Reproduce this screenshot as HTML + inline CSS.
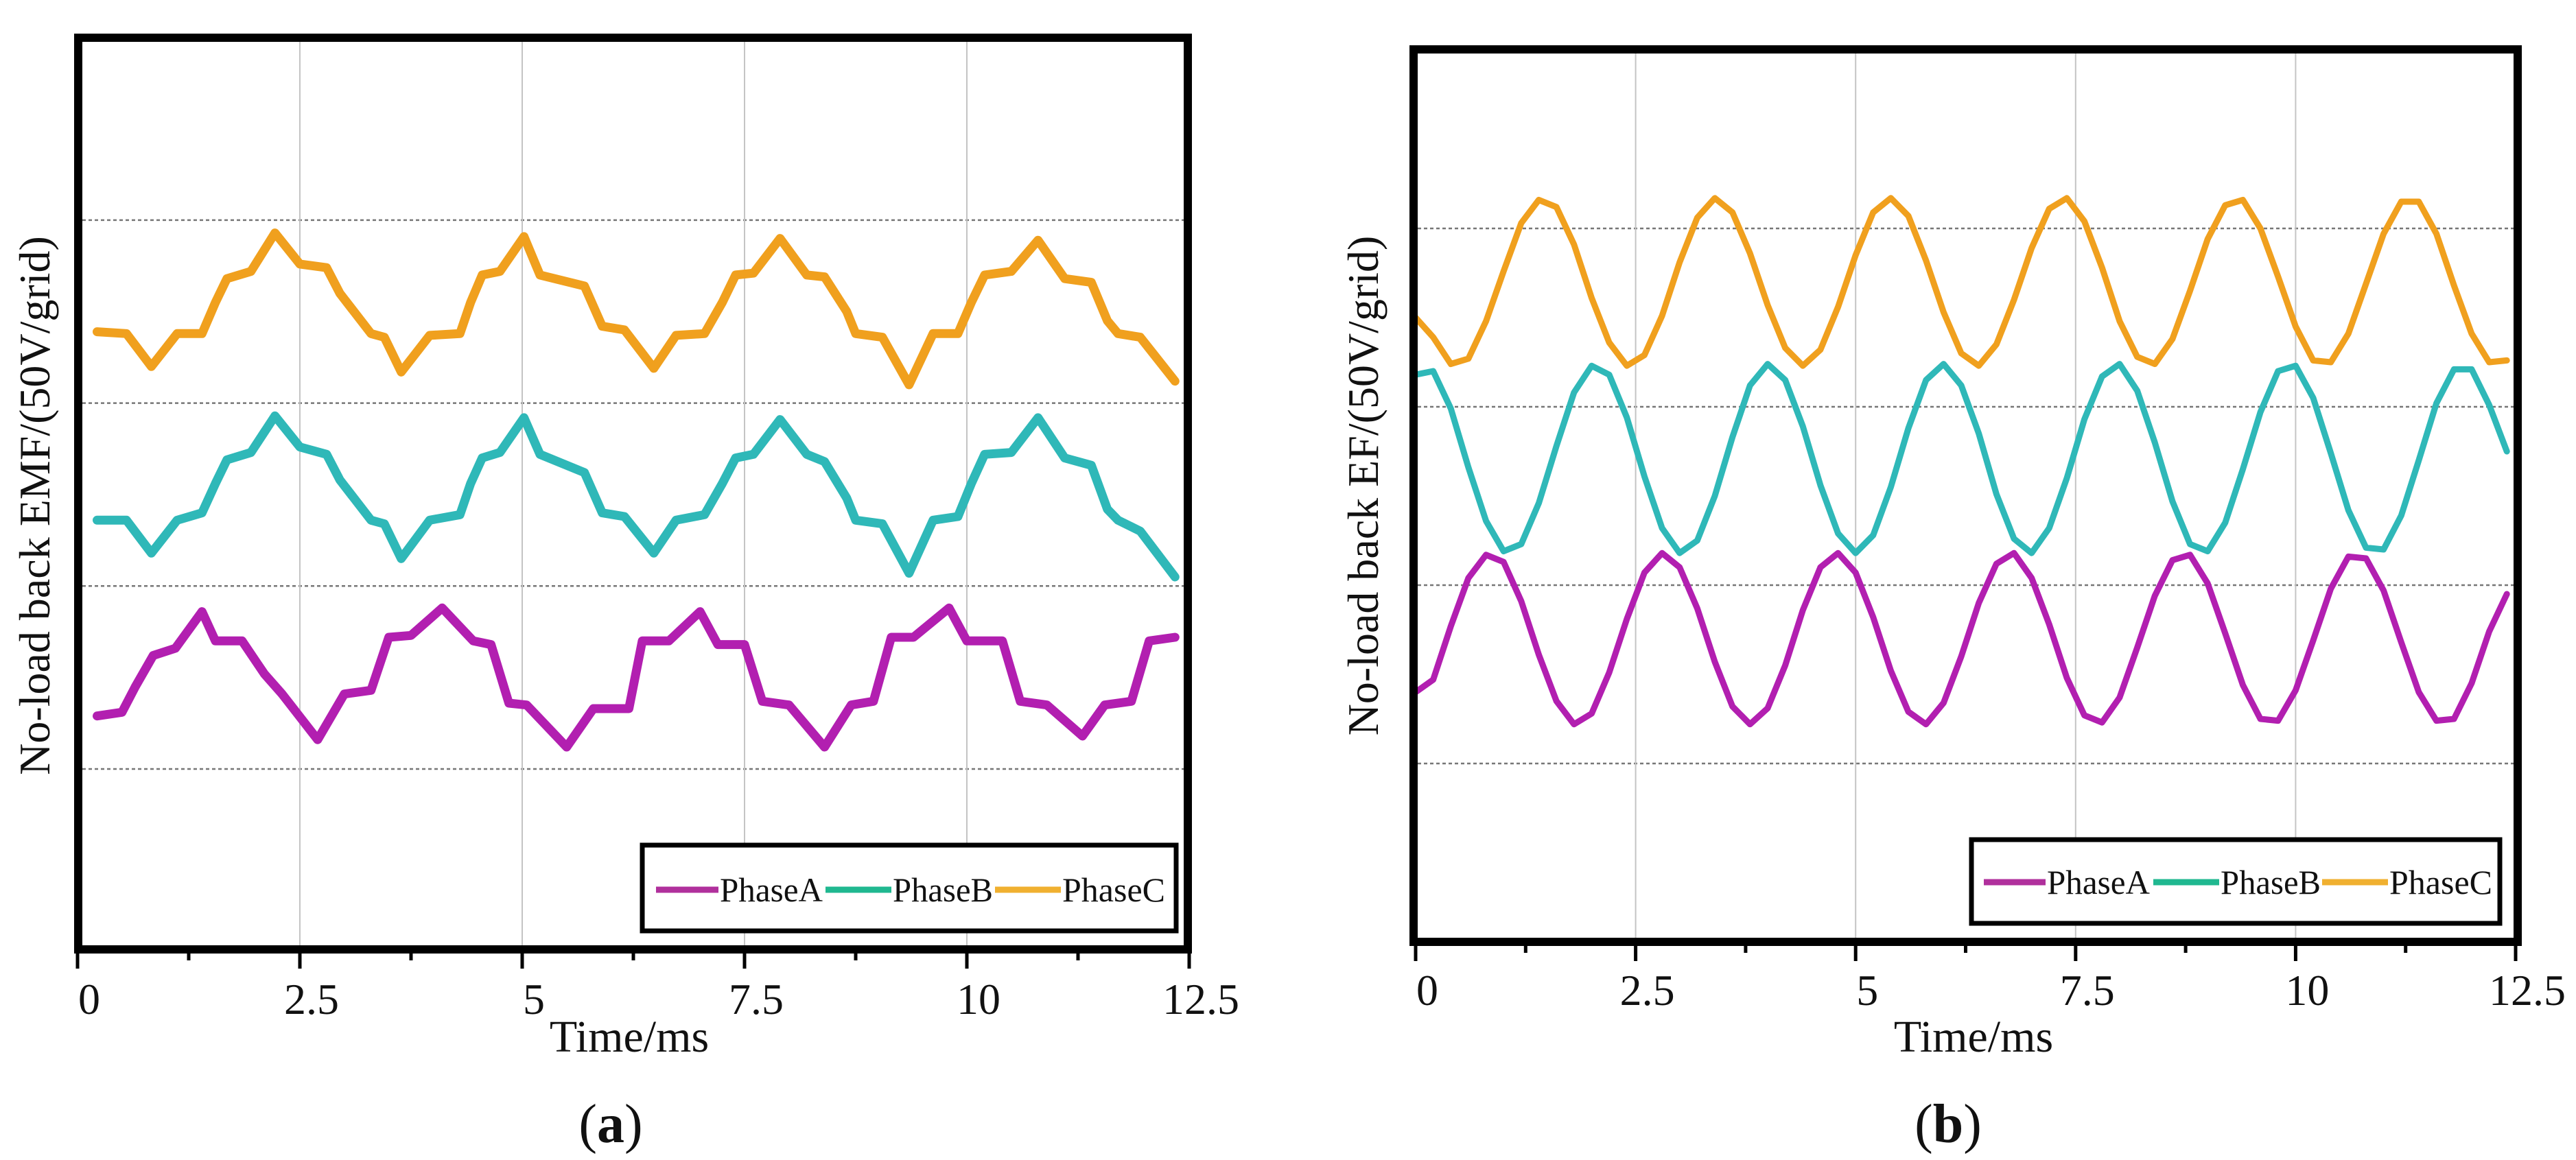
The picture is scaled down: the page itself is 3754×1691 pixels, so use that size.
<!DOCTYPE html>
<html><head><meta charset="utf-8"><style>
html,body{margin:0;padding:0;background:#fff;}
svg{display:block;}
text{font-family:"Liberation Serif",serif;fill:#111;}
</style></head><body>
<svg id="fig" width="3754" height="1691" viewBox="0 0 3754 1691" xmlns="http://www.w3.org/2000/svg">
<g id="panelA"></g>
<g id="panelB"></g>
</svg>
<script>
// ---- data: panel (a) ----
const tCB_a = [0.22,0.55,0.83,1.12,1.40,1.55,1.68,1.95,2.22,2.50,2.80,2.95,3.30,3.45,3.64,3.96,4.30,4.42,4.55,4.75,5.02,5.20,5.70,5.90,6.15,6.48,6.73,7.05,7.25,7.40,7.60,7.90,8.20,8.40,8.65,8.75,9.05,9.35,9.62,9.90,10.05,10.20,10.50,10.80,11.10,11.40,11.58,11.70,11.95,12.34];
const phaseC_a = [2.39,2.38,2.20,2.38,2.38,2.55,2.68,2.72,2.93,2.76,2.74,2.60,2.38,2.36,2.17,2.37,2.38,2.55,2.70,2.72,2.91,2.70,2.64,2.42,2.40,2.19,2.37,2.38,2.55,2.70,2.71,2.90,2.70,2.69,2.50,2.38,2.36,2.10,2.38,2.38,2.55,2.70,2.72,2.89,2.68,2.66,2.45,2.38,2.36,2.12];
const phaseB_a = [1.36,1.36,1.18,1.36,1.40,1.56,1.69,1.73,1.93,1.76,1.72,1.58,1.36,1.34,1.15,1.36,1.39,1.56,1.70,1.73,1.92,1.72,1.62,1.40,1.38,1.18,1.36,1.39,1.56,1.70,1.72,1.91,1.72,1.68,1.48,1.36,1.34,1.07,1.36,1.38,1.56,1.72,1.73,1.92,1.70,1.66,1.42,1.36,1.30,1.05];
const tA_a = [0.22,0.50,0.65,0.85,1.10,1.40,1.55,1.85,2.10,2.30,2.70,3.00,3.30,3.50,3.75,4.10,4.45,4.65,4.85,5.05,5.50,5.80,6.20,6.35,6.65,7.00,7.20,7.50,7.70,8.00,8.40,8.70,8.95,9.15,9.40,9.80,10.00,10.40,10.60,10.90,11.30,11.55,11.85,12.05,12.34];
const phaseA_a = [0.29,0.31,0.45,0.62,0.66,0.86,0.70,0.70,0.52,0.41,0.16,0.41,0.43,0.72,0.73,0.88,0.70,0.68,0.36,0.35,0.12,0.33,0.33,0.70,0.70,0.86,0.68,0.68,0.37,0.35,0.12,0.35,0.37,0.72,0.72,0.88,0.70,0.70,0.37,0.35,0.18,0.35,0.37,0.70,0.72];
// ---- data: panel (b) ----
const tB = [0,0.2,0.4,0.6,0.8,1,1.2,1.4,1.6,1.8,2,2.2,2.4,2.6,2.8,3,3.2,3.4,3.6,3.8,4,4.2,4.4,4.6,4.8,5,5.2,5.4,5.6,5.8,6,6.2,6.4,6.6,6.8,7,7.2,7.4,7.6,7.8,8,8.2,8.4,8.6,8.8,9,9.2,9.4,9.6,9.8,10,10.2,10.4,10.6,10.8,11,11.2,11.4,11.6,11.8,12,12.2,12.4];
const phaseA_b = [0.40,0.47,0.77,1.04,1.17,1.13,0.91,0.61,0.35,0.22,0.28,0.51,0.81,1.07,1.18,1.10,0.87,0.57,0.32,0.22,0.31,0.55,0.86,1.10,1.18,1.07,0.82,0.52,0.29,0.22,0.34,0.60,0.90,1.12,1.18,1.04,0.78,0.48,0.27,0.23,0.37,0.65,0.94,1.14,1.17,1.01,0.73,0.44,0.25,0.24,0.41,0.69,0.98,1.16,1.15,0.97,0.68,0.40,0.24,0.25,0.45,0.74,0.95];
const phaseB_b = [2.18,2.20,1.99,1.66,1.36,1.19,1.23,1.46,1.78,2.08,2.23,2.18,1.94,1.61,1.32,1.18,1.25,1.50,1.83,2.12,2.24,2.15,1.89,1.56,1.29,1.18,1.28,1.55,1.88,2.15,2.24,2.12,1.85,1.51,1.26,1.18,1.32,1.60,1.93,2.17,2.24,2.09,1.80,1.47,1.23,1.19,1.35,1.65,1.97,2.20,2.23,2.05,1.74,1.42,1.21,1.20,1.39,1.70,2.02,2.21,2.21,2.01,1.75];
const phaseC_b = [2.50,2.39,2.24,2.27,2.48,2.76,3.03,3.16,3.12,2.91,2.61,2.36,2.23,2.29,2.51,2.81,3.06,3.17,3.09,2.86,2.57,2.33,2.23,2.32,2.56,2.85,3.09,3.17,3.07,2.82,2.53,2.30,2.23,2.35,2.60,2.89,3.11,3.17,3.04,2.78,2.48,2.28,2.24,2.38,2.65,2.94,3.13,3.16,3.00,2.73,2.45,2.26,2.25,2.41,2.69,2.97,3.15,3.15,2.97,2.68,2.41,2.25,2.26];
const xTicks = [0,2.5,5,7.5,10,12.5];
const xTickLabels = ["0","2.5","5","7.5","10","12.5"];
const minorTicks = [1.25,3.75,6.25,8.75,11.25];
const hGrid = [0,1,2,3];
const legendNames = ["PhaseA","PhaseB","PhaseC"];

const NS="http://www.w3.org/2000/svg";
function mk(parent,tag,attrs,txt){const e=document.createElementNS(NS,tag);for(const k in attrs)e.setAttribute(k,attrs[k]);if(txt!==undefined)e.textContent=txt;parent.appendChild(e);return e;}

function panel(g,cfg){
  const X=t=>cfg.x0+t*(cfg.x1-cfg.x0)/12.5;
  const Y=v=>cfg.y0-v*cfg.dy;
  hGrid.forEach(v=>{
    const l=mk(g,'line',{x1:cfg.L+6,x2:cfg.R-6,y1:Y(v),y2:Y(v),stroke:'#777','stroke-width':2.5,'stroke-dasharray':'5 4'});
    
    
  });
  xTicks.slice(1,5).forEach(t=>{
    const l=mk(g,'line',{x1:X(t),x2:X(t),y1:cfg.T,y2:cfg.B,stroke:'#c4c4c4','stroke-width':2});
    
    
  });
  const series=[[cfg.tc,cfg.c,'#f0a01e','phase-c-line'],[cfg.tb,cfg.b,'#2fb8b8','phase-b-line'],[cfg.ta,cfg.a,'#b21fb0','phase-a-line']];
  series.forEach(s=>{
    const pts=s[0].map((t,i)=>X(t).toFixed(1)+','+Y(s[1][i]).toFixed(1)).join(' ');
    const p=mk(g,'polyline',{points:pts,fill:'none',stroke:s[2],'stroke-width':cfg.sw,'stroke-linejoin':'round','stroke-linecap':'round'});
    
    
  });
  const f=mk(g,'rect',{x:cfg.L,y:cfg.T,width:cfg.R-cfg.L,height:cfg.B-cfg.T,fill:'none',stroke:'#000','stroke-width':12});
  
  
  xTicks.forEach((t,i)=>{
    const tk=mk(g,'line',{x1:X(t),x2:X(t),y1:cfg.B,y2:cfg.B+28,stroke:'#000','stroke-width':5});
    
    
    const lb=mk(g,'text',{x:X(t)+17,y:cfg.lblY,'font-size':64,'text-anchor':'middle'},xTickLabels[i]);
    
    
  });
  minorTicks.forEach(t=>{
    const tk=mk(g,'line',{x1:X(t),x2:X(t),y1:cfg.B,y2:cfg.B+16,stroke:'#000','stroke-width':5});
    
    
  });
  const xt=mk(g,'text',{x:cfg.xtX,y:1533,'font-size':66,'text-anchor':'middle'},'Time/ms');
  
  
  const yt=mk(g,'text',{x:0,y:0,'font-size':64,'text-anchor':'middle',transform:`translate(${cfg.ytX},${cfg.ytY}) rotate(-90)`},cfg.ytitle);
  
  
  const lg=mk(g,'g',{});
  
  
  const lr=mk(lg,'rect',{x:cfg.lg[0],y:cfg.lg[1],width:cfg.lg[2]-cfg.lg[0],height:cfg.lg[3]-cfg.lg[1],fill:'#fff',stroke:'#000','stroke-width':7});
  
  
  const lc=['#b0309c','#20b890','#f0b030'];
  legendNames.forEach((n,i)=>{
    const e=cfg.le[i];
    const ln=mk(lg,'line',{x1:e[0],x2:e[1],y1:cfg.ly,y2:cfg.ly,stroke:lc[i],'stroke-width':9});
    
    
    const tx=mk(lg,'text',{x:e[1]+2,y:cfg.ly+17,'font-size':50,textLength:e[2],lengthAdjust:'spacingAndGlyphs'},n);
    
    
  });
  const cap=mk(g,'text',{x:cfg.capX,y:1665,'font-size':80,'text-anchor':'middle'});
  
  
  cap.innerHTML='(<tspan font-weight="bold">'+cfg.cap+'</tspan>)';
}

panel(document.getElementById('panelA'),{
  ta:tA_a,tb:tCB_a,tc:tCB_a,a:phaseA_a,b:phaseB_a,c:phaseC_a,
  x0:113,x1:1733,y0:1121,dy:266.7,L:114,R:1731,T:55,B:1384,sw:13,lblY:1478,
  xtX:917,ytX:72,ytY:737,ytitle:'No-load back EMF/(50V/grid)',
  lg:[936,1232,1714,1357],ly:1297,le:[[956,1047,150],[1203,1299,146],[1450,1546,150]],
  capX:890,cap:'a'
});
panel(document.getElementById('panelB'),{
  ta:tB,tb:tB,tc:tB,a:phaseA_b,b:phaseB_b,c:phaseC_b,
  x0:2063,x1:3666,y0:1113,dy:260,L:2060,R:3669,T:72,B:1373,sw:9,lblY:1465,
  xtX:2876,ytX:2008,ytY:708,ytitle:'No-load back EF/(50V/grid)',
  lg:[2873,1224,3643,1346],ly:1286,le:[[2891,2981,150],[3138,3234,146],[3384,3480,150]],
  capX:2839,cap:'b'
});
</script>
</body></html>
